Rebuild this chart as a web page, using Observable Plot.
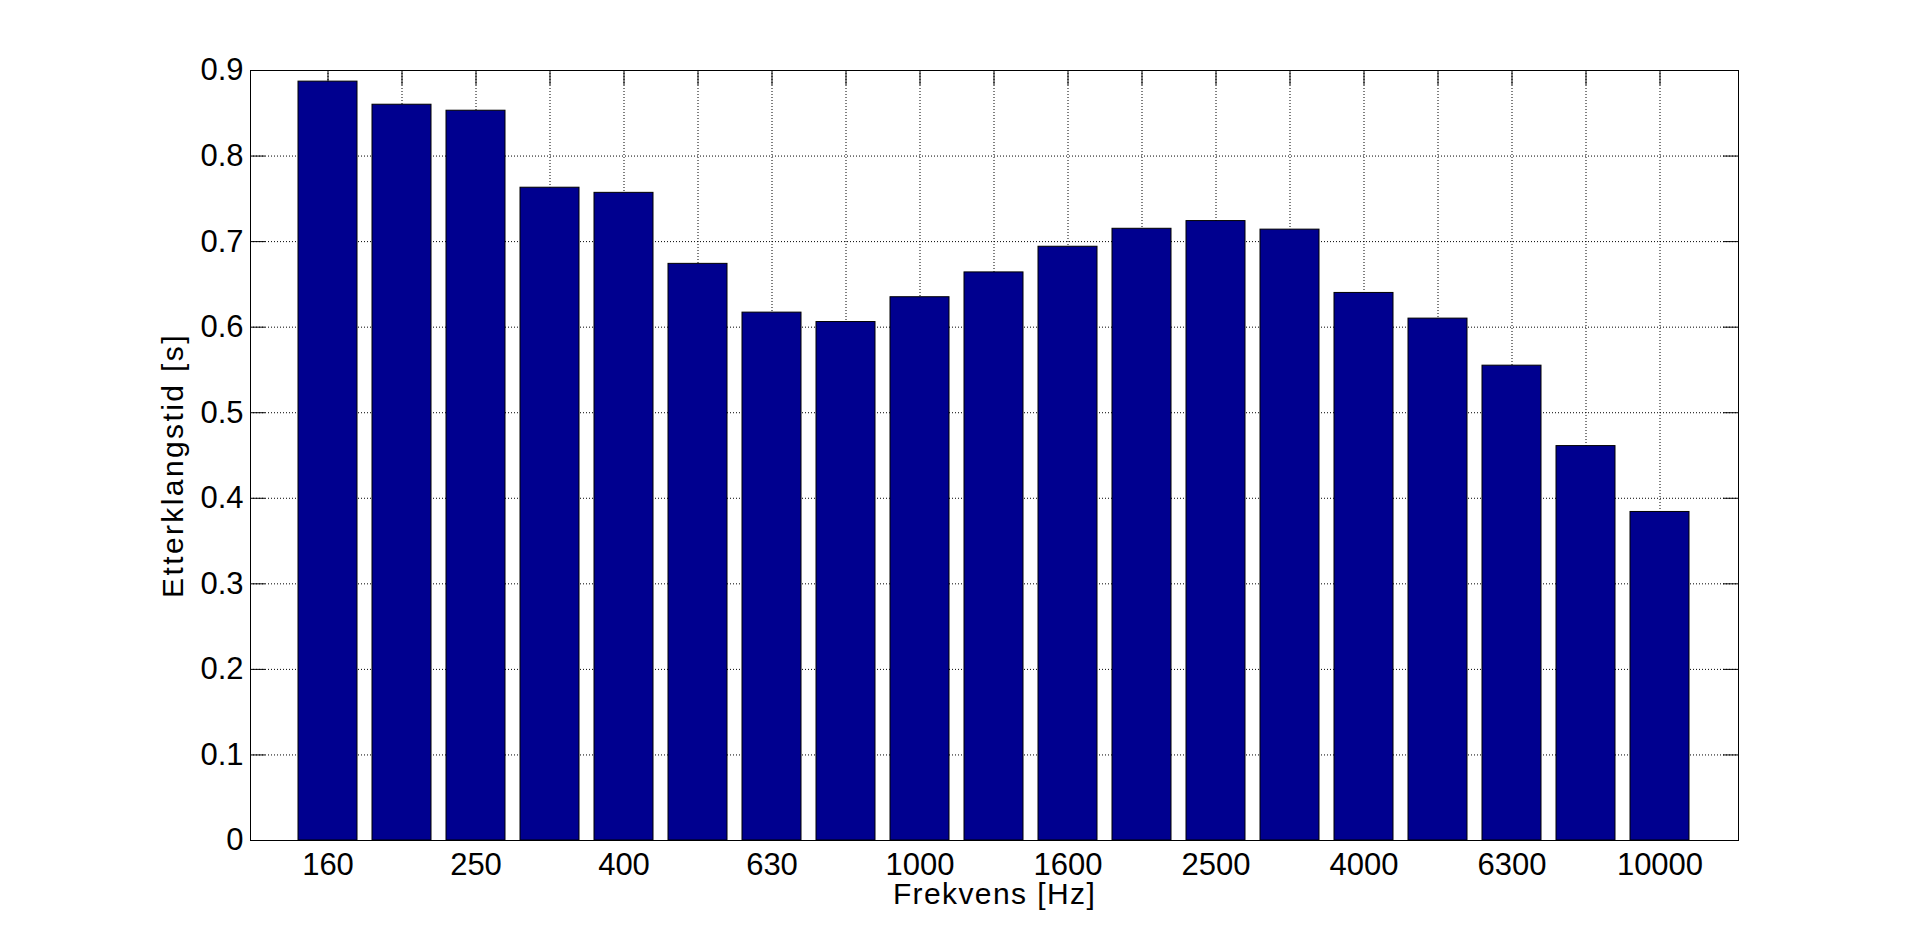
<!DOCTYPE html>
<html>
<head>
<meta charset="utf-8">
<script src="https://cdn.jsdelivr.net/npm/d3@7"></script>
<script src="https://cdn.jsdelivr.net/npm/@observablehq/plot@0.6"></script>
<style>
  html, body { margin: 0; padding: 0; background: #ffffff; }
  svg { display: block; }
</style>
</head>
<body>
<script>
// ---- data ----
const frequencies = ["160","200","250","315","400","500","630","800","1000","1250","1600","2000","2500","3150","4000","5000","6300","8000","10000"];
const reverbTime = [0.887,0.860,0.853,0.763,0.757,0.674,0.617,0.606,0.635,0.664,0.694,0.715,0.724,0.714,0.640,0.610,0.555,0.461,0.384];
const labelledFrequencies = ["160","250","400","630","1000","1600","2500","4000","6300","10000"];
const yTicks = [0,0.1,0.2,0.3,0.4,0.5,0.6,0.7,0.8,0.9];
const xLabel = "Frekvens [Hz]";
const yLabel = "Etterklangstid [s]";

const data = frequencies.map((f, i) => ({f, v: reverbTime[i]}));

// ---- layout ----
const W = 1920, H = 944;
const ML = 250, MR = 182, MT = 70, MB = 104;
const plotW = W - ML - MR, plotH = H - MT - MB;
const TICK = 15;
const FONT = "'Liberation Sans', Arial, Helvetica, sans-serif";
const FS_TICK = 31;
const FS_TITLE = 30;

const chart = Plot.plot({
  width: W,
  height: H,
  marginLeft: ML, marginRight: MR, marginTop: MT, marginBottom: MB,
  style: {background: "#ffffff", fontFamily: FONT, fontSize: FS_TICK + "px", color: "black", overflow: "visible"},
  x: {type: "band", domain: frequencies, paddingInner: 0.2, paddingOuter: 0.6, align: 0.5, axis: null, label: null},
  y: {domain: [0, 0.9], axis: null, label: null},
  marks: [
    // dotted grid
    Plot.gridX(frequencies, {stroke: "black", strokeOpacity: 1, strokeWidth: 1, strokeDasharray: "1,2"}),
    Plot.gridY(yTicks, {stroke: "black", strokeOpacity: 1, strokeWidth: 1, strokeDasharray: "1,2"}),
    // inward tick marks (bottom/top/left/right)
    Plot.ruleX(frequencies, {x: d => d, stroke: "black", strokeWidth: 1, insetTop: plotH - TICK}),
    Plot.ruleX(frequencies, {x: d => d, stroke: "black", strokeWidth: 1, insetBottom: plotH - TICK}),
    Plot.ruleY(yTicks, {y: d => d, stroke: "black", strokeWidth: 1, insetRight: plotW - TICK}),
    Plot.ruleY(yTicks, {y: d => d, stroke: "black", strokeWidth: 1, insetLeft: plotW - TICK}),
    // bars
    Plot.barY(data, {x: "f", y: "v", fill: "#00008F", stroke: "black", strokeWidth: 1}),
    // box
    Plot.frame({stroke: "black", strokeWidth: 1}),
    // tick labels
    Plot.axisX(frequencies, {
      anchor: "bottom", tickSize: 0, tickPadding: 12, fontSize: FS_TICK, fill: "black",
      tickFormat: d => labelledFrequencies.includes(d) ? d : "", label: null
    }),
    Plot.axisY(yTicks, {
      anchor: "left", tickSize: 0, tickPadding: 7, fontSize: FS_TICK, fill: "black",
      tickFormat: d => d === 0 ? "0" : d.toFixed(1), label: null
    }),
    // axis titles
    Plot.text([xLabel], {text: d => d, frameAnchor: "bottom", textAnchor: "middle", lineAnchor: "top", dy: 42, fontSize: FS_TITLE, fill: "black"}),
    Plot.text([yLabel], {text: d => d, frameAnchor: "left", textAnchor: "middle", lineAnchor: "middle", rotate: -90, dx: -77, dy: 10, fontSize: FS_TITLE, fill: "black"})
  ]
});

// wider glyph spacing of the axis titles, as in the reference rendering
d3.select(chart).selectAll("text")
  .filter(function () { return this.textContent === xLabel; })
  .style("letter-spacing", "1.4px");
d3.select(chart).selectAll("text")
  .filter(function () { return this.textContent === yLabel; })
  .style("letter-spacing", "2.4px");

document.body.append(chart);
</script>
</body>
</html>
